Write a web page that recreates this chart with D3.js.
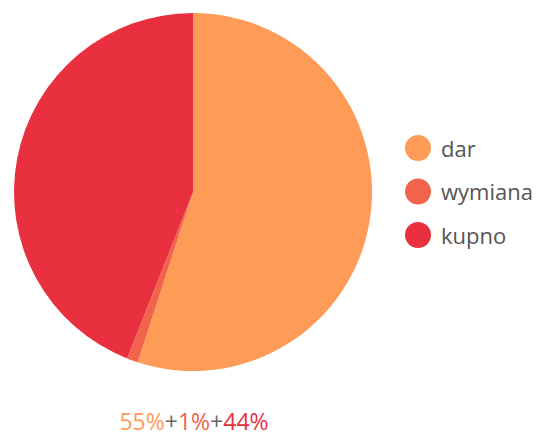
<!DOCTYPE html>
<html>
<head>
<meta charset="utf-8">
<script src="https://cdn.jsdelivr.net/npm/d3@7"></script>
<style>
  body { margin: 0; background: #fff; }
  text { font-family: "Open Sans", sans-serif; }
</style>
</head>
<body>
<svg></svg>
<script>
const categories = ['dar', 'wymiana', 'kupno'];
const values = [55, 1, 44];
const colors = ['#fe9b57', '#f1634a', '#e8303f'];

const WIDTH = 546;
const HEIGHT = 437;
const RADIUS = 179;

const svg = d3.select('svg')
    .attr('width', WIDTH)
    .attr('height', HEIGHT);

const data = categories.map((c, i) => ({ name: c, value: values[i], color: colors[i] }));

const pie = d3.pie().sort(null).value((d) => d.value);
const arc = d3.arc().innerRadius(0).outerRadius(RADIUS);

const g = svg.append('g')
    .attr('transform', `translate(193, 192)`);

g.selectAll('path')
    .data(pie(data))
    .enter().append('path')
    .attr('d', arc)
    .attr('fill', (d) => d.data.color);

// legend
const legendY = d3.scalePoint().domain(categories).range([148, 235]);
const legend = svg.append('g');
const item = legend.selectAll('g')
    .data(data)
    .enter().append('g')
    .attr('transform', (d) => `translate(418, ${legendY(d.name)})`);
item.append('circle')
    .attr('r', 13)
    .attr('fill', (d) => d.color);
item.append('text')
    .attr('x', 23)
    .attr('dy', '0.4em')
    .attr('font-size', 22)
    .attr('fill', '#555')
    .text((d) => d.name);

// bottom summary
const summary = svg.append('text')
    .attr('x', 194)
    .attr('y', 430)
    .attr('text-anchor', 'middle')
    .attr('font-size', 23);
data.forEach((d, i) => {
  if (i > 0) summary.append('tspan').attr('fill', '#666').text('+');
  summary.append('tspan').attr('fill', d.color).text(`${d.value}%`);
});
</script>
</body>
</html>
